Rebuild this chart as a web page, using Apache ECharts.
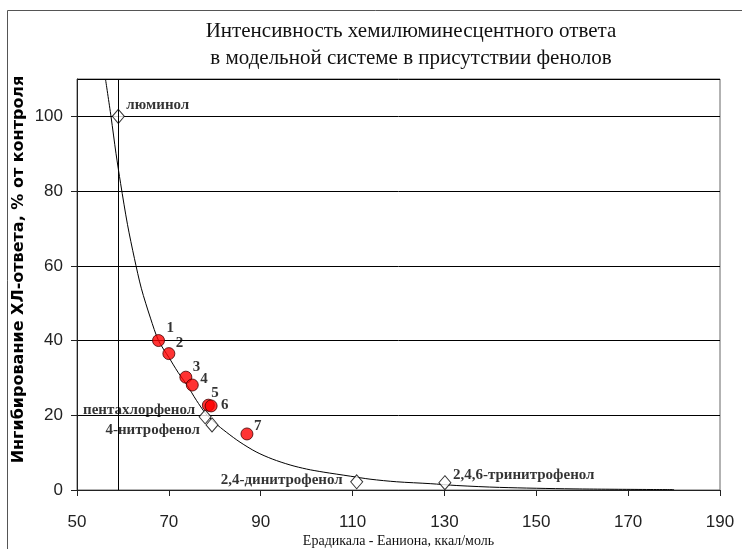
<!DOCTYPE html>
<html>
<head>
<meta charset="utf-8">
<script src="https://cdn.jsdelivr.net/npm/echarts@6/dist/echarts.min.js"></script>
<style>html,body{margin:0;padding:0;background:#fff}#chart{width:742px;height:549px}</style>
</head>
<body>
<div id="chart"></div>
<script>
// ---- data ----
const titleText = 'Интенсивность хемилюминесцентного ответа\nв модельной системе в присутствии фенолов';
const xName = 'Ерадикала - Еаниона, ккал/моль';
const yName = 'Ингибирование ХЛ-ответа, % от контроля';

const redLabels = ['1', '2', '3', '4', '5', '6', '7'];
const redX = [67.75, 70.0, 73.7, 75.1, 78.6, 79.2, 87.0];
const redY = [40.0, 36.5, 30.2, 28.1, 22.7, 22.5, 15.0];

const phenolNames = ['люминол', 'пентахлорфенол', '4-нитрофенол', '2,4-динитрофенол', '2,4,6-тринитрофенол'];
const phenolX = [59.0, 77.9, 79.4, 110.9, 130.1];
const phenolY = [100, 19.6, 17.4, 2.2, 1.95];

const curveX = [56.2, 57.4, 58.5, 59.5, 61, 62.5, 64, 66, 67.75, 70, 72, 74, 76, 78, 80, 82.6, 85.5, 89, 92.5, 96.4, 100, 103.6, 109.5, 113.8, 119.6, 126.9, 132.7, 142, 158, 180];
const curveY = [110, 100, 90, 82, 71, 62, 54, 46, 40, 35.5, 31.5, 28, 24, 20.5, 18, 15.4, 12.8, 10.2, 8.3, 6.7, 5.6, 4.8, 3.7, 2.9, 2.2, 1.7, 1.2, 0.7, 0.3, 0.1];

const refLineX = 59;

// ---- label placement (style, not data) ----
const redLabelOffsets = [[8, -12], [7, -10], [7, -10], [8, -6], [3, -12], [10, -1], [7, -8]];
const phenolLabelOffsets = [[8, -11, 'left'], [-10, -7, 'right'], [-12, 5, 'right'], [-14, -2, 'right'], [8, -8, 'left']];

const labelFont = { fontFamily: 'Liberation Serif', fontWeight: 'bold', fontSize: 15, color: '#000' };

const redData = redX.map((x, i) => ({
  value: [x, redY[i]],
  label: {
    show: true, formatter: redLabels[i], position: 'inside',
    offset: redLabelOffsets[i], align: 'left', verticalAlign: 'middle', ...labelFont
  }
}));
const phenolData = phenolX.map((x, i) => ({
  value: [x, phenolY[i]],
  label: {
    show: true, formatter: phenolNames[i], position: 'inside',
    offset: [phenolLabelOffsets[i][0], phenolLabelOffsets[i][1]],
    align: phenolLabelOffsets[i][2], verticalAlign: 'middle', ...labelFont
  }
}));
const curveData = curveX.map((x, i) => [x, curveY[i]]);

const chart = echarts.init(document.getElementById('chart'), null, { renderer: 'canvas' });
chart.setOption({
  animation: false,
  backgroundColor: '#fff',
  title: {
    text: titleText,
    left: 406, top: 13, textAlign: 'center',
    textStyle: { fontFamily: 'Liberation Serif', fontWeight: 'normal', fontSize: 21, lineHeight: 27, color: '#111' }
  },
  graphic: [{
    type: 'rect', silent: true,
    shape: { x: 7.5, y: 10.5, width: 900, height: 700 },
    style: { fill: 'none', stroke: '#555', lineWidth: 1 }
  }],
  grid: { left: 77, right: 22, top: 79, bottom: 59, outerBoundsMode: 'none', containLabel: false, show: true, borderColor: '#666', borderWidth: 1, backgroundColor: 'transparent' },
  xAxis: {
    type: 'value', min: 50, max: 190, interval: 20,
    name: xName, nameLocation: 'middle', nameGap: 44, nameMoveOverlap: false,
    nameTextStyle: { fontFamily: 'Liberation Serif', fontSize: 14, color: '#111' },
    axisLine: { show: true, lineStyle: { color: '#222', width: 1 } },
    axisTick: { show: true, length: 6, lineStyle: { color: '#222' } },
    axisLabel: { margin: 24, fontFamily: 'Liberation Sans', fontSize: 17, color: '#222' },
    splitLine: { show: false }
  },
  yAxis: {
    type: 'value', min: 0, max: 110, interval: 20,
    name: yName, nameLocation: 'middle', nameRotate: 90, nameGap: 50, nameMoveOverlap: false,
    nameTextStyle: { fontFamily: 'DejaVu Sans', fontWeight: 'bold', fontSize: 16, color: '#000', padding: [0, 0, 0, 30] },
    axisLine: { show: true, lineStyle: { color: '#222', width: 1 } },
    axisTick: { show: true, length: 6, lineStyle: { color: '#222' } },
    axisLabel: { margin: 14, fontFamily: 'Liberation Sans', fontSize: 17, color: '#222', showMaxLabel: false },
    splitLine: { show: true, lineStyle: { color: '#000', width: 1 } }
  },
  series: [
    {
      type: 'line', data: curveData, smooth: 0.3, symbol: 'none',
      lineStyle: { color: '#000', width: 1 }, z: 2,
      markLine: {
        silent: true, symbol: 'none', label: { show: false },
        lineStyle: { color: '#000', width: 1, type: 'solid' },
        data: [{ xAxis: refLineX }]
      }
    },
    {
      type: 'scatter', data: phenolData, symbol: 'diamond', symbolSize: [12, 14],
      itemStyle: { color: '#fff', borderColor: '#000', borderWidth: 1 }, z: 3
    },
    {
      type: 'scatter', data: redData, symbol: 'circle', symbolSize: 12,
      itemStyle: { color: '#f00', borderColor: '#400', borderWidth: 1 }, z: 4
    }
  ]
});
</script>
</body>
</html>
